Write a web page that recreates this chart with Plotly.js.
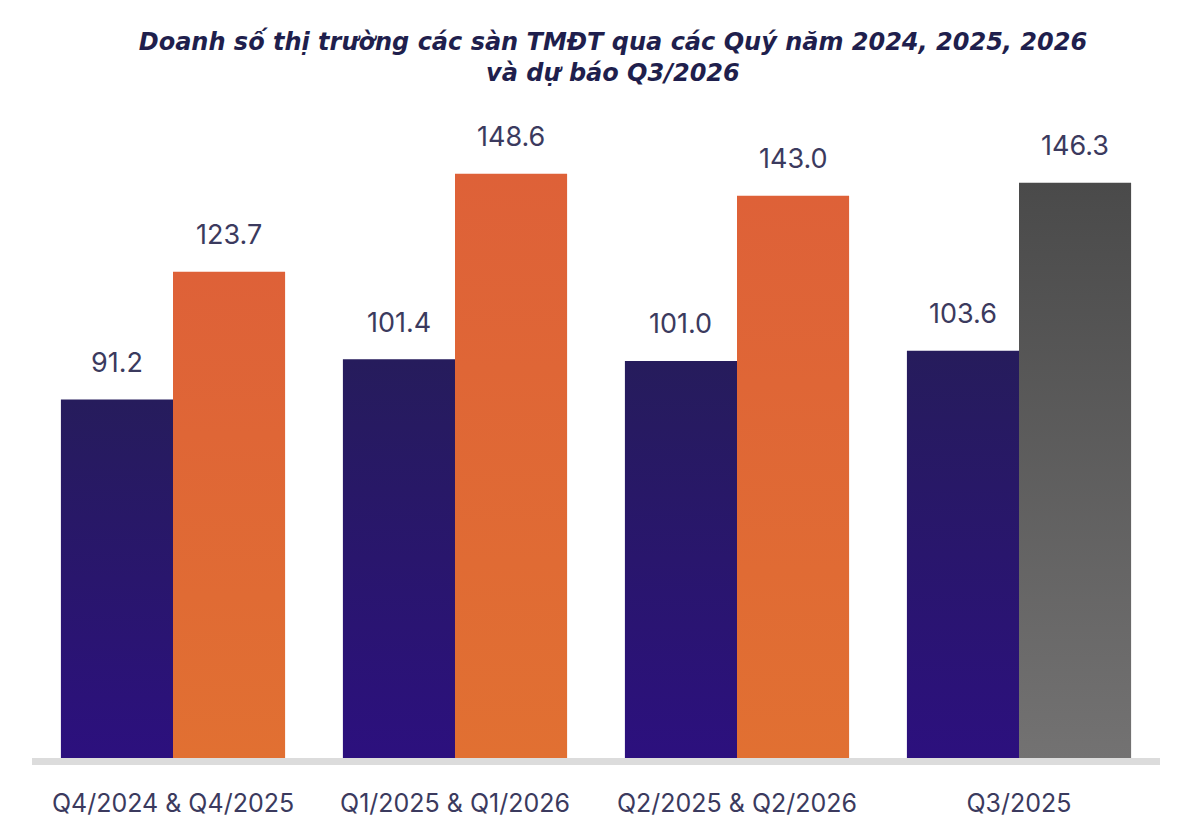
<!DOCTYPE html>
<html>
<head>
<meta charset="utf-8">
<script src="https://cdn.plot.ly/plotly-3.0.1.min.js"></script>
<style>
  html, body { margin: 0; padding: 0; background: #ffffff; }
  #chart { width: 1200px; height: 839px; }
</style>
</head>
<body>
<div id="chart"></div>
<script>
// Quarter groups and revenue values (nghìn tỷ đồng)
const categories = ['Q4/2024 & Q4/2025', 'Q1/2025 & Q1/2026', 'Q2/2025 & Q2/2026', 'Q3/2025'];
const earlierValues = [91.2, 101.4, 101.0, 103.6];
const laterValues = [123.7, 148.6, 143.0, 146.3];
// The last bar of the second series is the forecast
const laterIsForecast = [false, false, false, true];

const labelColor = '#3b3a5e';
const valueFont = { family: 'Inter, "Noto Sans", sans-serif', size: 27, color: labelColor };

const traceEarlier = {
  type: 'bar',
  x: categories,
  y: earlierValues,
  marker: { color: '#2a1870', line: { width: 0 } },
  hoverinfo: 'x+y',
  showlegend: false
};

const traceLater = {
  type: 'bar',
  x: categories,
  y: laterValues,
  marker: {
    color: laterIsForecast.map(f => f ? '#5e5e5e' : '#e06a36'),
    line: { width: 0 }
  },
  hoverinfo: 'x+y',
  showlegend: false
};

// Value labels above every bar, offset in category units for grouped bars
const groupWidth = 0.795;
const annotations = [];
categories.forEach((c, i) => {
  annotations.push({
    x: i - groupWidth / 4, y: earlierValues[i], xref: 'x', yref: 'y',
    text: earlierValues[i].toFixed(1), showarrow: false,
    yanchor: 'middle', yshift: 37, font: valueFont
  });
  annotations.push({
    x: i + groupWidth / 4, y: laterValues[i], xref: 'x', yref: 'y',
    text: laterValues[i].toFixed(1), showarrow: false,
    yanchor: 'middle', yshift: 37, font: valueFont
  });
});

const layout = {
  width: 1200,
  height: 839,
  paper_bgcolor: '#ffffff',
  plot_bgcolor: '#ffffff',
  margin: { l: 32, r: 40, t: 129, b: 81 },
  barmode: 'group',
  bargap: 1 - groupWidth,
  bargroupgap: 0,
  title: {
    text: 'Doanh số thị trường các sàn TMĐT qua các Quý năm 2024, 2025, 2026<br>và dự báo Q3/2026',
    x: 0.515, xanchor: 'center', xref: 'paper',
    y: 1 - 50 / 839, yanchor: 'top', yref: 'container',
    font: { family: '"DejaVu Sans", sans-serif', size: 24, color: '#1f1f4d', weight: 'bold', style: 'italic' }
  },
  xaxis: {
    type: 'category',
    range: [-0.5, 3.5],
    showline: true,
    linecolor: '#dcdcdc',
    linewidth: 7,
    ticks: '',
    showgrid: false,
    zeroline: false,
    ticklabelstandoff: 17,
    tickfont: { family: 'Inter, "Noto Sans", sans-serif', size: 25, color: labelColor },
    fixedrange: true
  },
  yaxis: {
    range: [0, 160],
    visible: false,
    showgrid: false,
    zeroline: false,
    fixedrange: true
  },
  annotations: annotations
};

// Vertical colour gradients for the bar fills
const gradients = {
  gEarlier: ['#261c5c', '#2c107e'],
  gLater: ['#de6138', '#e17032'],
  gForecast: ['#4a4a4a', '#737272']
};

function applyGradients(gd) {
  const svg = gd.querySelector('svg.main-svg');
  if (!svg) return;
  const ns = 'http://www.w3.org/2000/svg';
  let defs = svg.querySelector('defs');
  if (!defs) { defs = document.createElementNS(ns, 'defs'); svg.insertBefore(defs, svg.firstChild); }
  Object.keys(gradients).forEach(id => {
    if (defs.querySelector('#' + id)) return;
    const lg = document.createElementNS(ns, 'linearGradient');
    lg.setAttribute('id', id);
    lg.setAttribute('x1', '0'); lg.setAttribute('y1', '0');
    lg.setAttribute('x2', '0'); lg.setAttribute('y2', '1');
    gradients[id].forEach((col, k) => {
      const stop = document.createElementNS(ns, 'stop');
      stop.setAttribute('offset', k === 0 ? '0%' : '100%');
      stop.setAttribute('stop-color', col);
      lg.appendChild(stop);
    });
    defs.appendChild(lg);
  });
  const traces = gd.querySelectorAll('.barlayer .trace.bars');
  traces.forEach((tr, ti) => {
    tr.querySelectorAll('.point path').forEach((p, pi) => {
      let id = ti === 0 ? 'gEarlier' : (laterIsForecast[pi] ? 'gForecast' : 'gLater');
      p.style.fill = 'url(#' + id + ')';
    });
  });
}

const gd = document.getElementById('chart');
Plotly.newPlot(gd, [traceEarlier, traceLater], layout, { displayModeBar: false, staticPlot: true })
  .then(() => applyGradients(gd));
</script>
</body>
</html>
